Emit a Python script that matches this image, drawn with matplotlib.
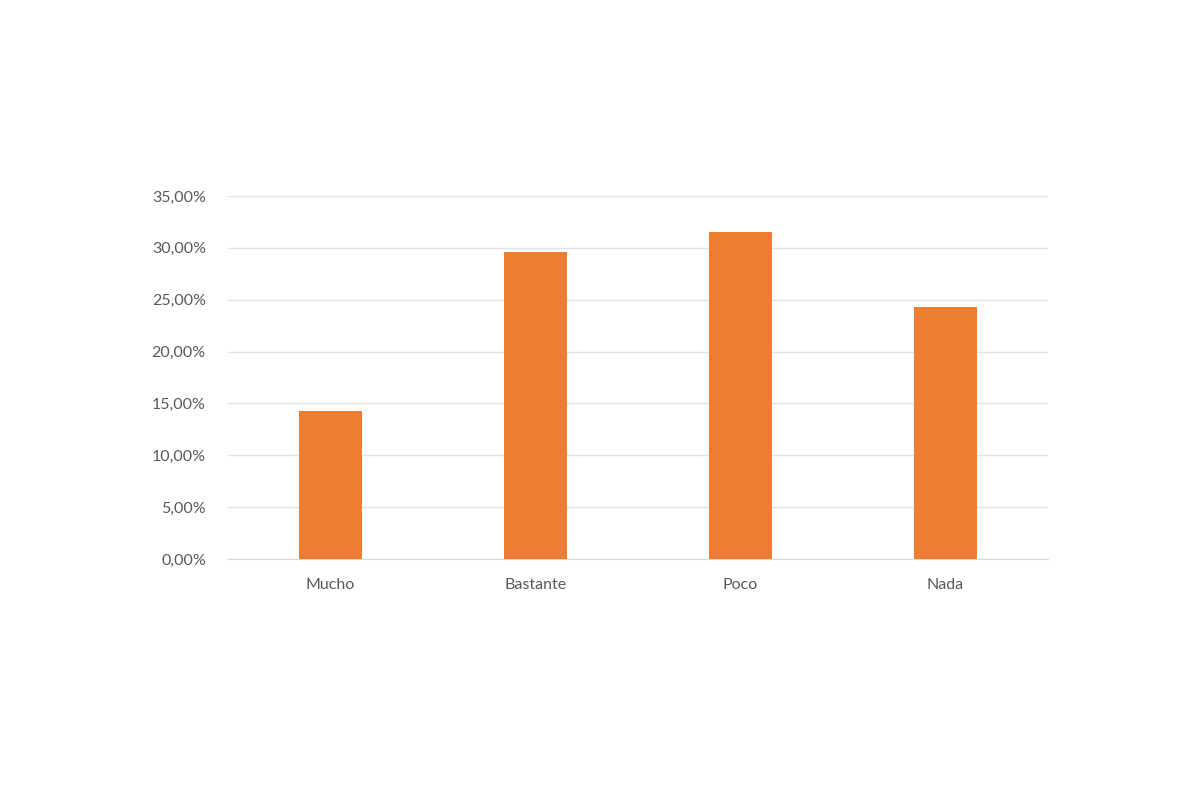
import matplotlib
matplotlib.use("Agg")
import matplotlib.pyplot as plt
from matplotlib.ticker import FuncFormatter

# data
categories = ["Mucho", "Bastante", "Poco", "Nada"]
values = [14.3, 29.6, 31.5, 24.3]
yticks = [0, 5, 10, 15, 20, 25, 30, 35]

plt.rcParams['font.family'] = ['Lato', 'DejaVu Sans']

fig = plt.figure(figsize=(12, 8), dpi=100)
ax = fig.add_axes([0.19, 0.30125, 0.6833, 0.45375])

x = range(len(categories))
ax.bar(x, values, width=0.31, color="#ED7D31", zorder=3)

ax.set_xlim(-0.5, len(categories) - 0.5)
ax.set_ylim(0, 35)
ax.set_yticks(yticks)
ax.yaxis.set_major_formatter(FuncFormatter(lambda v, p: f"{v:.2f}%".replace(".", ",")))
ax.set_xticks(list(x))
ax.set_xticklabels(categories)

ax.grid(axis="y", color="#E3E3E3", linewidth=1, zorder=0)
for s in ["top", "right", "left"]:
    ax.spines[s].set_visible(False)
ax.spines["bottom"].set_color("#DADADA")
ax.tick_params(axis="both", length=0, labelsize=11.5, labelcolor="#595959")
ax.tick_params(axis="y", pad=16)
ax.tick_params(axis="x", pad=14)

fig.savefig("out.png", dpi=100)
